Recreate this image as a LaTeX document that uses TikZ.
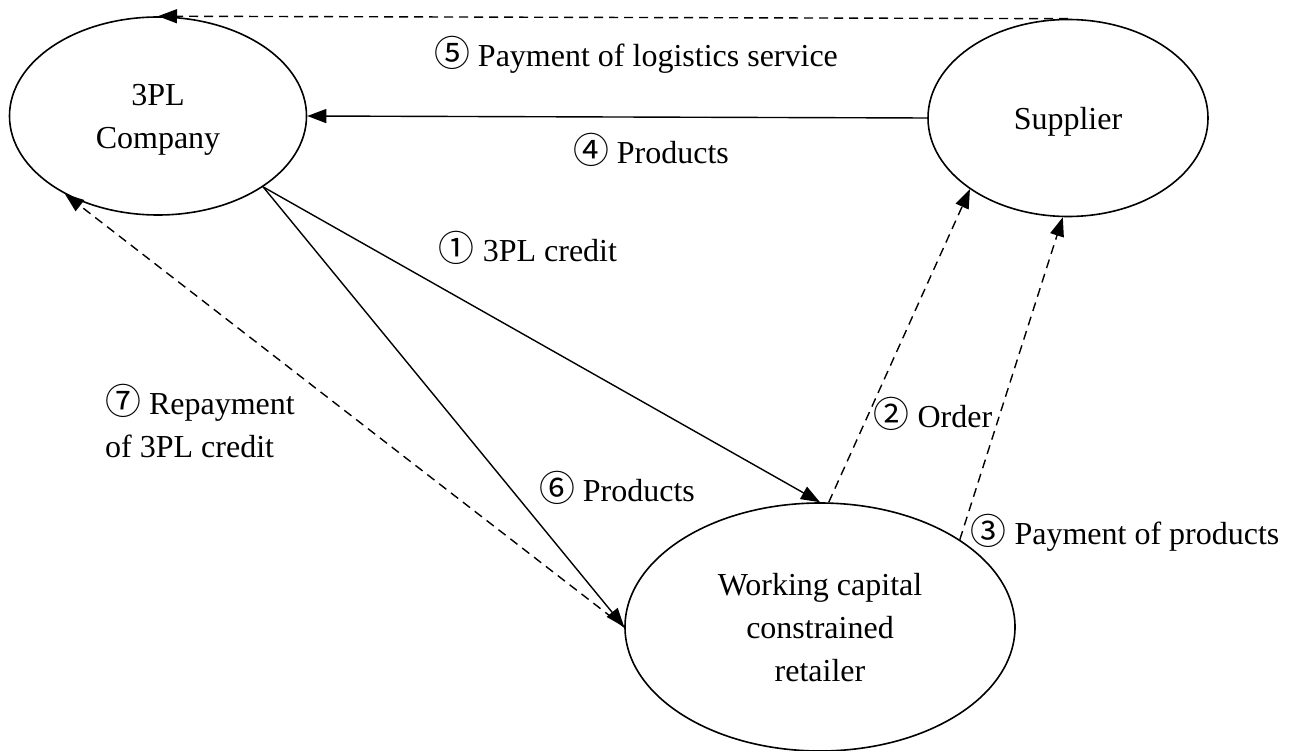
\documentclass[tikz,border=0pt]{standalone}
\usepackage{fontspec}
\setmainfont{Liberation Serif}
\newfontfamily\circfont[Scale=1.12]{Noto Sans CJK SC}
\usetikzlibrary{arrows.meta,shapes.geometric}
% circled step number
\newcommand{\stepno}[1]{{\circfont #1}}
\begin{document}
\begin{tikzpicture}[x=1pt,y=-1pt,
  font=\fontsize{32}{43}\selectfont,
  party/.style={draw, ellipse, line width=1.6pt, inner sep=0pt, align=center, text depth=0pt},
  flow/.style={line width=1.4pt, -{Triangle[length=19pt,width=14pt]}},
  cashflow/.style={flow, dash pattern=on 9pt off 6pt},
  lbl/.style={inner sep=0pt}]
\useasboundingbox (0,0) rectangle (1309,751);

% parties
\node[party, minimum width=297pt, minimum height=198pt] (tpl) at (158,116) {3PL\\Company};
\node[party, minimum width=280pt, minimum height=197pt] (sup) at (1068,118) {Supplier};
\node[party, minimum width=390pt, minimum height=248pt] (ret) at (820,627) {Working capital\\constrained\\retailer};

% flows
\draw[cashflow] (sup.north) -- (tpl.north);
\draw[flow] (sup.west) -- (tpl.east);
\draw[flow] (tpl.-34) -- (ret.north);
\draw[flow] (tpl.-34) -- (ret.west);
\draw[cashflow] (ret.west) -- (tpl.220);
\draw[cashflow] (ret.86) -- (sup.-144);
\draw[cashflow] (ret.32) -- (sup.-93);

% labels
\node[lbl] (l5) at (636,55) {\stepno{⑤} Payment of logistics service};
\node[lbl] (l4) at (651,150) {\stepno{④} Products};
\node[lbl] (l1) at (528,248) {\stepno{①} 3PL credit};
\node[lbl] (l2) at (933,414) {\stepno{②} Order};
\node[lbl] (l3) at (1125,533) {\stepno{③} Payment of products};
\node[lbl] (l6) at (617,488) {\stepno{⑥} Products};
\node[lbl, align=left, anchor=west] (l7) at (105,421) {\stepno{⑦} Repayment\\of 3PL credit};
\end{tikzpicture}
\end{document}
